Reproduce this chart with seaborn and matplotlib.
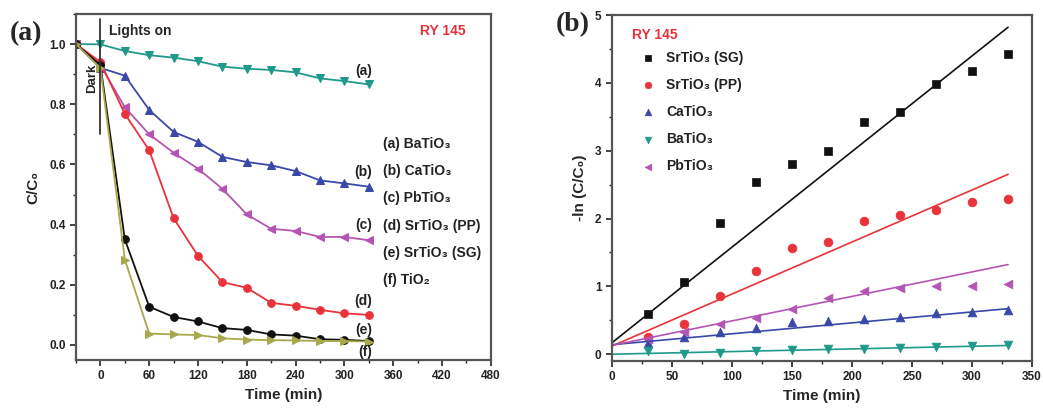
import numpy as np
import pandas as pd
import matplotlib
matplotlib.use("Agg")
import matplotlib.pyplot as plt
from matplotlib.ticker import MultipleLocator
import seaborn as sns

# -----------------------------
# DATA
# -----------------------------
time_a = [-30, 0, 30, 60, 90, 120, 150, 180, 210, 240, 270, 300, 330]

batio3_c = [1.0, 0.999, 0.977, 0.963, 0.955, 0.943, 0.925, 0.918, 0.914, 0.906, 0.886, 0.877, 0.866]
catio3_c = [1.0, 0.921, 0.895, 0.781, 0.708, 0.675, 0.625, 0.608, 0.597, 0.578, 0.547, 0.537, 0.526]
pbtio3_c = [1.0, 0.93, 0.79, 0.70, 0.639, 0.586, 0.519, 0.434, 0.386, 0.379, 0.359, 0.359, 0.348]
srtio3_pp_c = [1.0, 0.94, 0.768, 0.647, 0.421, 0.296, 0.209, 0.19, 0.14, 0.13, 0.117, 0.105, 0.10]
srtio3_sg_c = [1.0, 0.93, 0.351, 0.127, 0.093, 0.078, 0.056, 0.05, 0.035, 0.031, 0.019, 0.017, 0.013]
tio2_c = [1.0, 0.92, 0.284, 0.038, 0.035, 0.033, 0.022, 0.018, 0.016, 0.015, 0.013, 0.013, 0.011]

time_b = [30, 60, 90, 120, 150, 180, 210, 240, 270, 300, 330]

srtio3_sg_ln = [0.59, 1.06, 1.94, 2.54, 2.80, 3.00, 3.43, 3.57, 3.98, 4.17, 4.43]
srtio3_pp_ln = [0.26, 0.44, 0.86, 1.22, 1.57, 1.66, 1.96, 2.05, 2.13, 2.25, 2.29]
catio3_ln = [0.17, 0.25, 0.33, 0.38, 0.47, 0.49, 0.52, 0.55, 0.60, 0.62, 0.65]
batio3_ln = [0.05, 0.01, 0.02, 0.04, 0.06, 0.07, 0.08, 0.09, 0.11, 0.12, 0.13]
pbtio3_ln = [0.22, 0.32, 0.44, 0.54, 0.66, 0.83, 0.93, 0.97, 1.00, 1.00, 1.04]

# linear fits shown in (b): slope (1/min) and intercept
fit_names = ['SrTiO₃ (SG)', 'SrTiO₃ (PP)', 'CaTiO₃', 'BaTiO₃', 'PbTiO₃']
fit_slope = [0.01409, 0.00767, 0.00161, 0.00039, 0.00361]
fit_intercept = [0.17, 0.12, 0.14, 0.0, 0.13]
fit_range = [0, 330]

# series styling
colors = {
    'BaTiO₃': '#1f9a8a',
    'CaTiO₃': '#3a48a8',
    'PbTiO₃': '#b455b4',
    'SrTiO₃ (PP)': '#e8333a',
    'SrTiO₃ (SG)': '#111111',
    'TiO₂': '#a8a84c',
}

series_a = [
    ('BaTiO₃', batio3_c, 'v', '(a)', 0.912),
    ('CaTiO₃', catio3_c, '^', '(b)', 0.574),
    ('PbTiO₃', pbtio3_c, '<', '(c)', 0.40),
    ('SrTiO₃ (PP)', srtio3_pp_c, 'o', '(d)', 0.147),
    ('SrTiO₃ (SG)', srtio3_sg_c, 'o', '(e)', 0.05),
    ('TiO₂', tio2_c, '>', '(f)', -0.022),
]

series_b = [
    ('SrTiO₃ (SG)', srtio3_sg_ln, 's'),
    ('SrTiO₃ (PP)', srtio3_pp_ln, 'o'),
    ('CaTiO₃', catio3_ln, '^'),
    ('BaTiO₃', batio3_ln, 'v'),
    ('PbTiO₃', pbtio3_ln, '<'),
]

# -----------------------------
# STYLE
# -----------------------------
sns.set_theme(style="ticks")
plt.rcParams['font.family'] = ['Liberation Sans', 'DejaVu Sans']
plt.rcParams['font.weight'] = 'bold'
plt.rcParams['axes.labelweight'] = 'bold'
plt.rcParams['axes.edgecolor'] = '#555555'
plt.rcParams['axes.linewidth'] = 1.6

fig = plt.figure(figsize=(10.43, 4.09), dpi=100)
ax_a = fig.add_axes([0.0729, 0.1198, 0.3976, 0.846])
ax_b = fig.add_axes([0.5868, 0.1174, 0.4027, 0.8459])

def style_axes(ax):
    ax.tick_params(which='major', direction='out', length=4, width=1.2,
                   labelsize=8.5, colors='#222222', top=False, right=False)
    ax.tick_params(which='minor', direction='out', length=2.5, width=1.0,
                   top=False, right=False)
    for s in ax.spines.values():
        s.set_visible(True)

# -----------------------------
# PANEL (a)
# -----------------------------
for name, vals, mk, tag, ty in series_a:
    sns.lineplot(x=time_a, y=vals, color=colors[name], marker=mk, markersize=5.5,
                 markeredgecolor=colors[name], linewidth=1.3, ax=ax_a)
    ax_a.text(334, ty, tag, ha='right', va='center', fontsize=10, color='#222222')

legend_y = [0.667, 0.577, 0.488, 0.395, 0.305, 0.217]
for (name, _, _, tag, _), ly in zip(series_a, legend_y):
    ax_a.text(347, ly, f"{tag} {name}", ha='left', va='center', fontsize=10, color='#222222')

ax_a.plot([0, 0], [0.70, 1.082], color='#333333', linewidth=1.3)
ax_a.text(-3, 0.885, 'Dark', rotation=90, ha='right', va='center', fontsize=9.5)
ax_a.text(11, 1.045, 'Lights on', ha='left', va='center', fontsize=10)
ax_a.text(393, 1.045, 'RY 145', ha='left', va='center', fontsize=10, color='#e8333a')

ax_a.set_xlim(-30, 480)
ax_a.set_ylim(-0.05, 1.1)
ax_a.xaxis.set_major_locator(MultipleLocator(60))
ax_a.xaxis.set_minor_locator(MultipleLocator(30))
ax_a.yaxis.set_major_locator(MultipleLocator(0.2))
ax_a.yaxis.set_minor_locator(MultipleLocator(0.1))
ax_a.yaxis.set_major_formatter(matplotlib.ticker.FormatStrFormatter('%.1f'))
ax_a.set_xlabel('Time (min)', fontsize=11, labelpad=4)
ax_a.set_ylabel('C/C₀', fontsize=11, labelpad=6)
style_axes(ax_a)

# -----------------------------
# PANEL (b)
# -----------------------------
for name, vals, mk in series_b:
    sns.scatterplot(x=time_b, y=vals, color=colors[name], marker=mk, s=40,
                    edgecolor=colors[name], linewidth=0.5, label=name, ax=ax_b)

fit_x = np.array(fit_range, dtype=float)
for name, k, b in zip(fit_names, fit_slope, fit_intercept):
    sns.lineplot(x=fit_x, y=k * fit_x + b, color=colors[name], linewidth=1.2, ax=ax_b)

ax_b.text(17, 4.7, 'RY 145', ha='left', va='center', fontsize=10, color='#e8333a')
leg = ax_b.legend(loc='upper left', bbox_to_anchor=(0.03, 0.925), frameon=False,
                  fontsize=10, handletextpad=0.3, labelspacing=0.95,
                  borderaxespad=0.3, markerscale=0.75)
for t in leg.get_texts():
    t.set_color('#222222')

ax_b.set_xlim(0, 350)
ax_b.set_ylim(-0.1, 5)
ax_b.xaxis.set_major_locator(MultipleLocator(50))
ax_b.xaxis.set_minor_locator(MultipleLocator(25))
ax_b.yaxis.set_major_locator(MultipleLocator(1))
ax_b.yaxis.set_minor_locator(MultipleLocator(0.5))
ax_b.set_xlabel('Time (min)', fontsize=11, labelpad=4)
ax_b.set_ylabel('-ln (C/C₀)', fontsize=11, labelpad=6)
style_axes(ax_b)

# panel tags
fig.text(0.009, 0.919, '(a)', fontsize=20, fontweight='bold',
         family=['Liberation Serif', 'DejaVu Serif'], va='center', ha='left')
fig.text(0.533, 0.939, '(b)', fontsize=20, fontweight='bold',
         family=['Liberation Serif', 'DejaVu Serif'], va='center', ha='left')

fig.savefig('out.png', dpi=100)
